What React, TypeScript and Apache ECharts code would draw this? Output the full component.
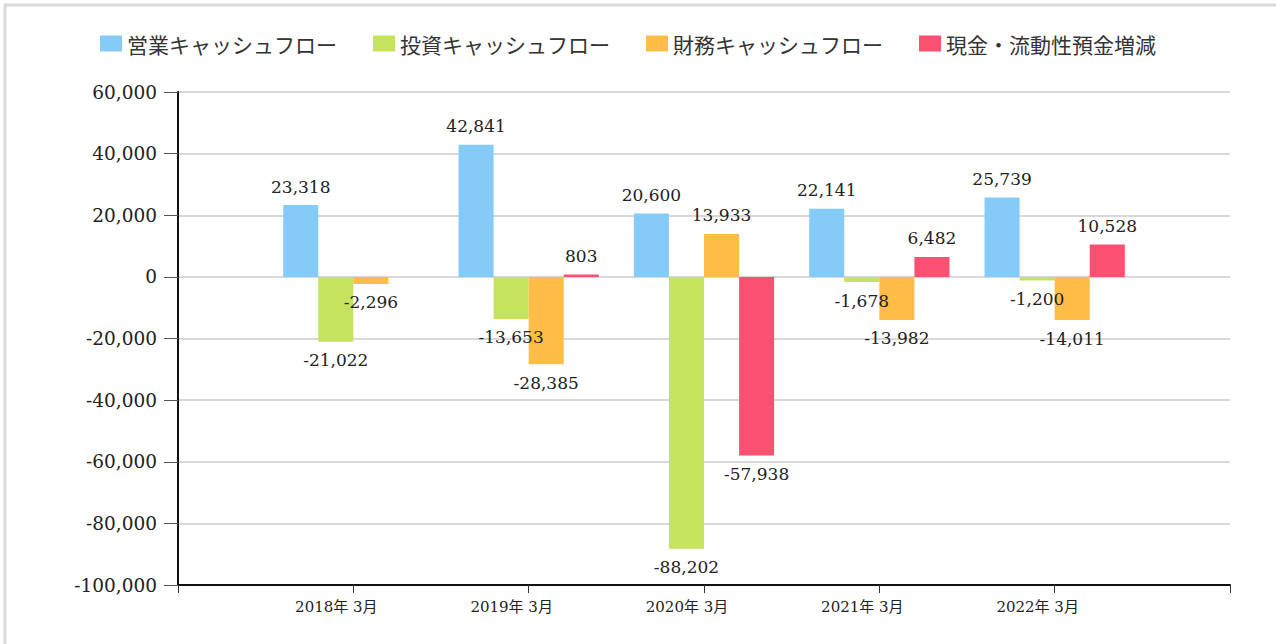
import React, { useEffect, useRef } from "react";
import * as echarts from "echarts";

const categories = ["2018年 3月", "2019年 3月", "2020年 3月", "2021年 3月", "2022年 3月"];
const seriesNames = ["営業キャッシュフロー", "投資キャッシュフロー", "財務キャッシュフロー", "現金・流動性預金増減"];
const operatingCF = [23318, 42841, 20600, 22141, 25739];
const investingCF = [-21022, -13653, -88202, -1678, -1200];
const financingCF = [-2296, -28385, 13933, -13982, -14011];
const cashChange: (number | null)[] = [null, 803, -57938, 6482, 10528];
const colors = ["#84cbf7", "#c5e35c", "#fdbd47", "#fb5170"];
const yTicks = { min: -100000, max: 60000, interval: 20000 };

const serifFont = "'DejaVu Serif', 'Noto Sans CJK JP', serif";

export default function App() {
  const ref = useRef<HTMLDivElement>(null);
  useEffect(() => {
    if (!ref.current) return;
    const chart = echarts.init(ref.current, null, { renderer: "svg" });
    const axisCats = ["", ...categories, ""];
    const toData = (arr: (number | null)[]) => [
      "-",
      ...arr.map((v) =>
        v === null
          ? "-"
          : { value: v, label: { position: v >= 0 ? "top" : "bottom" } }
      ),
      "-",
    ];
    const all = [operatingCF, investingCF, financingCF, cashChange];
    chart.setOption({
      animation: false,
      color: colors,
      graphic: [
        {
          type: "rect",
          silent: true,
          shape: { x: 5, y: 5, width: 1320, height: 700 },
          style: { fill: "none", stroke: "#d9d9d9", lineWidth: 3 },
        },
      ],
      legend: {
        left: 100,
        top: 33,
        padding: 0,
        icon: "rect",
        itemWidth: 22,
        itemHeight: 16,
        itemGap: 36,
        textStyle: { fontSize: 21, color: "#333", fontFamily: "'Noto Sans CJK JP', sans-serif" },
        data: seriesNames,
      },
      grid: { left: 178, right: 46, top: 92, bottom: 59 },
      xAxis: {
        type: "category",
        boundaryGap: false,
        data: axisCats,
        axisLine: { onZero: false, lineStyle: { color: "#111", width: 2 } },
        axisTick: { show: true, length: 8, interval: 0, lineStyle: { color: "#333", width: 1 } },
        axisLabel: {
          interval: 0,
          margin: 14,
          fontSize: 15,
          color: "#222",
          fontFamily: serifFont,
          padding: [0, 34, 0, 0],
        },
        splitLine: { show: false },
      },
      yAxis: {
        type: "value",
        min: yTicks.min,
        max: yTicks.max,
        interval: yTicks.interval,
        axisLine: { show: true, lineStyle: { color: "#111", width: 2 } },
        axisTick: { show: true, length: 14, lineStyle: { color: "#555", width: 1 } },
        axisLabel: {
          margin: 21,
          fontSize: 18.5,
          color: "#222",
          fontFamily: serifFont,
          formatter: (v: number) => echarts.format.addCommas(v),
        },
        splitLine: { show: true, lineStyle: { color: "#d8d8d8", width: 2 } },
      },
      series: all.map((arr, i) => ({
        name: seriesNames[i],
        type: "bar",
        barGap: "0%",
        barCategoryGap: "20%",
        data: toData(arr),
        label: {
          show: true,
          distance: 10,
          fontSize: 17,
          color: "#222",
          fontFamily: serifFont,
          formatter: (p: any) => echarts.format.addCommas(p.value),
        },
      })),
    });
    return () => chart.dispose();
  }, []);
  return (
    <div
      ref={ref}
      style={{ position: "fixed", left: 0, top: 0, width: 1276, height: 644, background: "#fff" }}
    />
  );
}
